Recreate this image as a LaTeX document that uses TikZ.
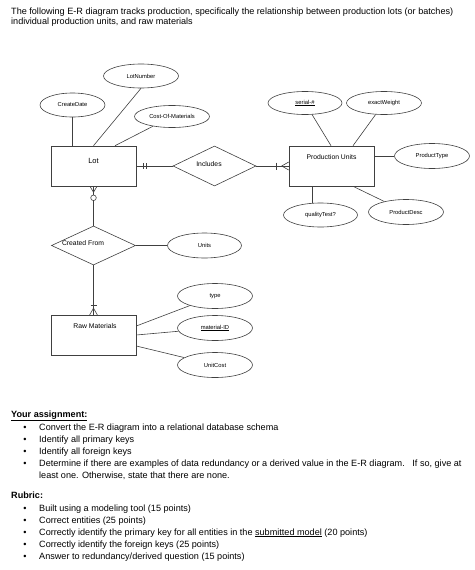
\documentclass[tikz,border=0pt]{standalone}
\usepackage{fontspec}
\setmainfont{Liberation Sans}
\usetikzlibrary{shapes.geometric,calc}
\begin{document}
\begin{tikzpicture}[x=1pt,y=-1pt,
  ln/.style={draw=black!75, line width=0.6pt},
  entity/.style={ln, rectangle, minimum width=85pt, minimum height=40pt, inner sep=0pt},
  attr/.style={ln, ellipse, minimum width=75pt, minimum height=24pt, inner sep=0pt, font=\fontsize{5.8}{7}\selectfont},
  rel/.style={ln, diamond, minimum width=84pt, minimum height=40pt, inner sep=0pt},
  big/.style={font=\fontsize{6.8}{8}\selectfont, inner sep=0pt},
  body/.style={anchor=base west, inner sep=0pt, font=\fontsize{9.1}{11}\selectfont},
  bul/.style={anchor=base, inner sep=0pt, font=\fontsize{9.1}{11}\selectfont},
]
\useasboundingbox (0,0) rectangle (474,570);

% header
\node[body] (h1) at (11,14) {The following E-R diagram tracks production, specifically the relationship between production lots (or batches)};
\node[body] (h2) at (11,24) {individual production units, and raw materials};

% entities
\node[entity] (lot) at (93.5,166) {};
\node[entity] (pu) at (331.5,166) {};
\node[entity] (rm) at (93.5,335.5) {};
\node[big, font=\fontsize{7.5}{9}\selectfont] (lott) at ($(lot.north)+(0,15)$) {Lot};
\node[big] (put) at ($(pu.north)+(0,11)$) {Production Units};
\node[big] (rmt) at ($(rm.north)+(1.5,11)$) {Raw Materials};

% relationships
\node[rel, minimum width=83pt] (inc) at (214.5,166) {};
\node[big] (inct) at (209,164) {Includes};
\node[rel, minimum height=39pt] (cf) at (93.5,245.5) {};
\node[big] (cft) at (83,243) {Created From};

% attributes
\node[attr] (lotnum) at (141,76) {LotNumber};
\node[attr, minimum width=65pt] (cdate) at (72.5,105) {CreateDate};
\node[attr, minimum height=22pt] (cost) at (172,116.5) {Cost-Of-Materials};
\node[attr, minimum width=74pt, minimum height=23pt] (serial) at (305,103) {\underline{serial-\#}};
\node[attr, minimum height=23pt] (exw) at (384,103) {exactWeight};
\node[attr, minimum height=25pt] (ptype) at (432,156) {ProductType};
\node[attr, minimum width=74pt] (qtest) at (320.5,215) {qualityTest?};
\node[attr, minimum height=25pt] (pdesc) at (406,212) {ProductDesc};
\node[attr, minimum width=74pt, minimum height=25pt] (units) at (204.5,245.5) {Units};
\node[attr, minimum height=25pt] (type) at (215,296) {type};
\node[attr, minimum height=25pt] (mid) at (215,328) {\underline{material-ID}};
\node[attr, minimum height=25pt] (ucost) at (215,365) {UnitCost};

% attribute connectors
\draw[ln] (cdate.south) -- (cdate.south |- lot.north);
\draw[ln] (lot.north) -- (lotnum.south);
\draw[ln] ($(lot.north)+(21.5,0)$) -- (cost);
\draw[ln] ($(pu.north)+(-0.5,0)$) -- (serial);
\draw[ln] ($(pu.north)+(21.5,0)$) -- (exw);
\draw[ln] ($(pu.east)+(0,-10)$) -- (ptype);
\coordinate (qa) at ($(pu.south)+(-19.5,0)$);
\draw[ln] (qa) -- (qa |- qtest.north);
\draw[ln] ($(pu.south)+(21.5,0)$) -- (pdesc);
\draw[ln] ($(rm.east)+(0,-9.5)$) -- (type);
\draw[ln] ($(rm.east)+(0,-0.5)$) -- (mid);
\draw[ln] ($(rm.east)+(0,10.5)$) -- (ucost);
\draw[ln] (cf.east) -- (units);

% relationship connectors
\draw[ln] (lot.east) -- (inc.west);
\draw[ln] ($(lot.east)+(7,-3)$) -- ++(0,6);
\draw[ln] ($(lot.east)+(10,-3)$) -- ++(0,6);

\draw[ln] (inc.east) -- (pu.west);
\draw[ln] ($(pu.west)+(-12,-3.5)$) -- ++(0,7);
\draw[ln] ($(pu.west)+(-7,0)$) -- ($(pu.west)+(0,-4)$);
\draw[ln] ($(pu.west)+(-7,0)$) -- ($(pu.west)+(0,4)$);

\draw[ln] (lot.south) -- (cf.north);
\draw[ln] ($(lot.south)+(0,6)$) -- ($(lot.south)+(-3.5,0)$);
\draw[ln] ($(lot.south)+(0,6)$) -- ($(lot.south)+(3.5,0)$);
\draw[ln, fill=white] ($(lot.south)+(0,11.5)$) circle (2.8);

\draw[ln] (cf.south) -- (rm.north);
\draw[ln] ($(rm.north)+(-3,-10)$) -- ++(6,0);
\draw[ln] ($(rm.north)+(0,-7)$) -- ($(rm.north)+(-4,0)$);
\draw[ln] ($(rm.north)+(0,-7)$) -- ($(rm.north)+(4,0)$);

% assignment
\node[body, font=\fontsize{9.1}{11}\selectfont\bfseries] (ya) at (11,417) {\underline{Your assignment:}};
\foreach \y/\t [count=\i] in {430/{Convert the E-R diagram into a relational database schema},
  442/{Identify all primary keys},
  454/{Identify all foreign keys},
  466/{Determine if there are examples of data redundancy or a derived value in the E-R diagram.\ \ \ If so, give at}}{
  \node[bul] (ab\i) at (25,\y) {•};
  \node[body] (a\i) at (39,\y) {\t};
}
\node[body] (a5) at (39,478) {least one. Otherwise, state that there are none.};

% rubric
\node[body, font=\fontsize{9.1}{11}\selectfont\bfseries] (rub) at (11,498) {Rubric:};
\foreach \y/\t [count=\i] in {511/{Built using a modeling tool (15 points)},
  523/{Correct entities (25 points)},
  535/{Correctly identify the primary key for all entities in the \underline{submitted model} (20 points)},
  547/{Correctly identify the foreign keys (25 points)},
  559/{Answer to redundancy/derived question (15 points)}}{
  \node[bul] (rb\i) at (25,\y) {•};
  \node[body] (r\i) at (39,\y) {\t};
}
\end{tikzpicture}
\end{document}
